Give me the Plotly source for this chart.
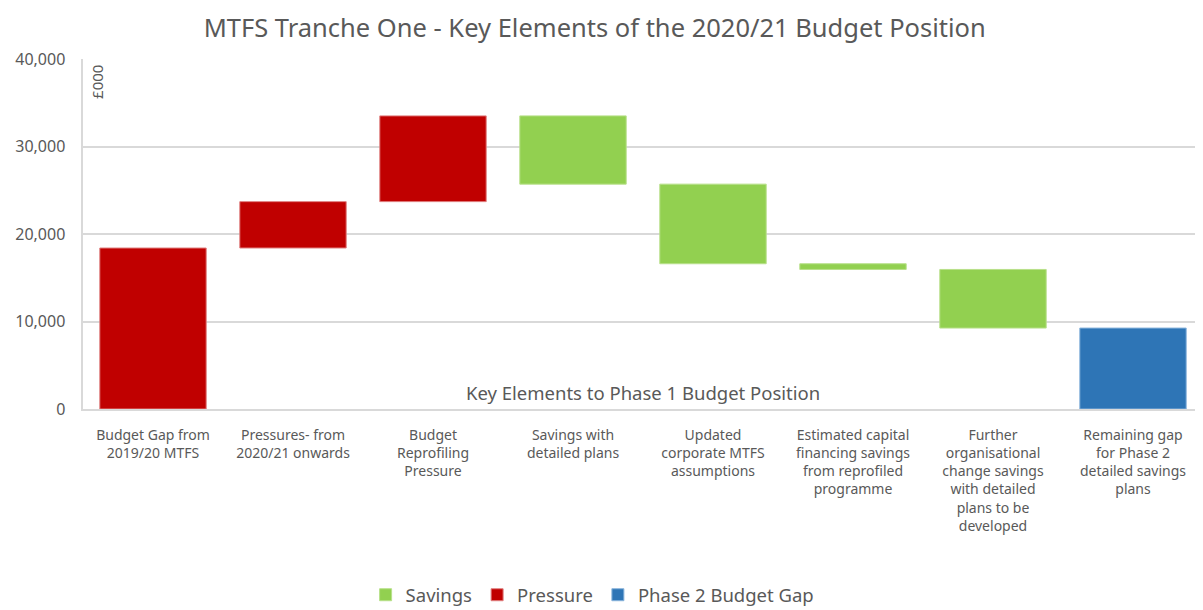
import plotly.graph_objects as go

categories = [
    "Budget Gap from<br>2019/20 MTFS",
    "Pressures- from<br>2020/21 onwards",
    "Budget<br>Reprofiling<br>Pressure",
    "Savings with<br>detailed plans",
    "Updated<br>corporate MTFS<br>assumptions",
    "Estimated capital<br>financing savings<br>from reprofiled<br>programme",
    "Further<br>organisational<br>change savings<br>with detailed<br>plans to be<br>developed",
    "Remaining gap<br>for Phase 2<br>detailed savings<br>plans",
]
# movement of each element, £000
changes = [18400, 5300, 9800, -7800, -9100, -650, -6700]
kinds = ["Pressure", "Pressure", "Pressure", "Savings", "Savings", "Savings", "Savings"]

# running totals for the floating bars
starts, ends = [], []
level = 0
for c in changes:
    starts.append(level)
    level += c
    ends.append(level)
remaining_gap = level

colors = {"Savings": "#92D050", "Pressure": "#C00000", "Phase 2 Budget Gap": "#2E75B6"}
edges = {"Savings": "#b8e08a", "Pressure": "#e08080", "Phase 2 Budget Gap": "#8ab4dc"}

fig = go.Figure()
for name in ["Savings", "Pressure"]:
    idx = [i for i, k in enumerate(kinds) if k == name]
    fig.add_trace(go.Bar(
        name=name,
        x=[categories[i] for i in idx],
        base=[min(starts[i], ends[i]) for i in idx],
        y=[abs(changes[i]) for i in idx],
        marker=dict(color=colors[name], line=dict(color=edges[name], width=1)),
    ))
fig.add_trace(go.Bar(
    name="Phase 2 Budget Gap",
    x=[categories[-1]],
    base=[0],
    y=[remaining_gap],
    marker=dict(color=colors["Phase 2 Budget Gap"],
                line=dict(color=edges["Phase 2 Budget Gap"], width=1)),
))

# page body has an 8px margin, so the figure is a bit smaller than the window
fig.update_layout(
    width=1195,
    height=602,
    margin=dict(l=75, r=0, t=51, b=201, autoexpand=False),
    paper_bgcolor="white",
    plot_bgcolor="white",
    font=dict(family="Noto Sans, Arial, sans-serif", color="#595959", size=14),
    barmode="overlay",
    bargap=0.24,
    title=dict(
        text="MTFS Tranche One - Key Elements of the 2020/21 Budget Position",
        x=0.491, xanchor="center", y=0.966, yanchor="middle",
        font=dict(size=25.5, color="#595959"),
    ),
    legend=dict(
        orientation="h", x=0.455, xanchor="center", y=-0.532, yanchor="middle",
        font=dict(size=18.5, color="#595959"), traceorder="normal",
        itemwidth=30, tracegroupgap=0,
    ),
    showlegend=True,
)
fig.update_xaxes(
    categoryorder="array", categoryarray=categories,
    showline=True, linecolor="#d9d9d9", linewidth=2,
    tickfont=dict(size=14, color="#595959"),
    ticks="", showgrid=False, automargin=False,
    ticklabelstandoff=12,
)
fig.update_yaxes(
    range=[0, 40000], dtick=10000, tickformat=",",
    showgrid=True, gridcolor="#d9d9d9", gridwidth=2,
    showline=True, linecolor="#d9d9d9", linewidth=2,
    zeroline=False, automargin=False,
    tickfont=dict(size=16, color="#595959"),
    ticksuffix="   ",
)
fig.add_annotation(
    text="Key Elements to Phase 1 Budget Position",
    xref="paper", yref="y", x=0.5, y=1900,
    showarrow=False, font=dict(size=18.5, color="#595959"),
)
fig.add_annotation(
    text="£000", textangle=-90,
    xref="paper", yref="paper", x=0.012, y=0.99, xanchor="center", yanchor="top",
    showarrow=False, font=dict(size=15, color="#595959"),
)

fig.write_html("out.html")
